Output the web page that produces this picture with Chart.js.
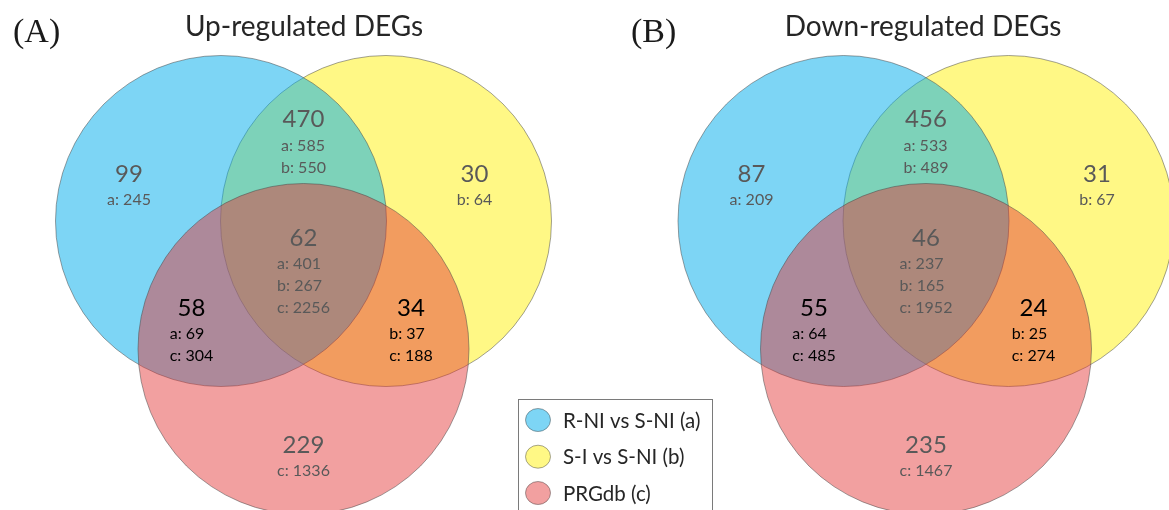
<!DOCTYPE html>
<html>
<head>
<meta charset="utf-8">
<script src="https://cdn.jsdelivr.net/npm/chart.js@4.4.1/dist/chart.umd.min.js"></script>
<style>
  html, body { margin: 0; padding: 0; background: #fff; }
  #wrap { width: 1169px; height: 510px; position: relative; }
</style>
</head>
<body>
<div id="wrap"><canvas id="venn" width="1169" height="510"></canvas></div>
<script>
// Gene sets compared in both diagrams
const setNames = ['R-NI vs S-NI (a)', 'S-I vs S-NI (b)', 'PRGdb (c)'];
const setLetters = ['a', 'b', 'c'];

// Panel headings
const panelTitles = ['Up-regulated DEGs', 'Down-regulated DEGs'];
const panelTags = ['(A)', '(B)'];

// Venn regions, named by the sets they belong to
const regions = ['a', 'b', 'c', 'ab', 'ac', 'bc', 'abc'];

// Gene counts per region
const upCounts = [99, 30, 229, 470, 58, 34, 62];
const downCounts = [87, 31, 235, 456, 55, 24, 46];

// Per-set totals listed under each region count (same region order)
const upTotals = [[245], [64], [1336], [585, 550], [69, 304], [37, 188], [401, 267, 2256]];
const downTotals = [[209], [67], [1467], [533, 489], [64, 485], [25, 274], [237, 165, 1952]];

const panelCounts = [upCounts, downCounts];
const panelTotals = [upTotals, downTotals];

// ---- layout (canvas units: the axes run 0..1169 and 0..510) ----
const W = 1169, H = 510;
const R = 165.5;                       // circle radius
const panelShift = [0, 622.5];         // horizontal offset of each panel
const circleCenters = { a: [221, 221], b: [386, 221], c: [303.5, 349] };
const labelAnchors = {
  a: [129, 173], b: [474.5, 173], c: [303.5, 444],
  ab: [303.5, 118.5], ac: [191.5, 307], bc: [411, 307], abc: [303.5, 237]
};
const boldInk = ['ac', 'bc'];          // regions labelled in black
const titleX = [304, 923];
const tagX = [13, 631];

// ---- styles ----
const fills = { a: 'rgba(0,172,235,0.51)', b: 'rgb(255,248,133)', c: 'rgba(227,53,53,0.47)' };
const drawOrder = { a: 2, b: 3, c: 1 };   // yellow underneath, pink on top
const FONT = 'Lato, "Open Sans", sans-serif';

// length along the x axis, in pixels
function pxLen(chart, v) {
  const s = chart.scales.x;
  if (!s || !s.width) return 0;
  return Math.abs(s.getPixelForValue(v) - s.getPixelForValue(0));
}

const datasets = setLetters.map((k, i) => ({
  label: setNames[i],
  data: panelShift.map(dx => ({ x: circleCenters[k][0] + dx, y: circleCenters[k][1] })),
  backgroundColor: fills[k],
  pointBackgroundColor: fills[k],
  pointBorderColor: 'rgba(70,70,70,0.5)',
  pointBorderWidth: 1,
  pointRadius: ctx => pxLen(ctx.chart, R),
  pointHoverRadius: ctx => pxLen(ctx.chart, R),
  showLine: false,
  order: drawOrder[k],
  clip: false
}));

// Region counts and their per-set totals
const vennLabels = {
  id: 'vennLabels',
  afterDatasetsDraw(chart) {
    const { ctx, scales: { x, y } } = chart;
    ctx.save();
    panelCounts.forEach((counts, p) => {
      regions.forEach((reg, i) => {
        const [ax, ay] = labelAnchors[reg];
        const cx = x.getPixelForValue(ax + panelShift[p]);
        const cy = y.getPixelForValue(ay);
        const ink = boldInk.includes(reg) ? '#000' : '#595959';
        ctx.fillStyle = ink;
        ctx.textBaseline = 'alphabetic';
        ctx.textAlign = 'center';
        ctx.font = '24px ' + FONT;
        ctx.fillText(String(counts[i]), cx, cy + 8.7);

        ctx.font = '16px ' + FONT;
        const lines = panelTotals[p][i].map((v, j) => reg[j] + ': ' + v);
        const wMax = Math.max(...lines.map(t => ctx.measureText(t).width));
        ctx.textAlign = 'left';
        lines.forEach((t, j) => {
          ctx.fillText(t, cx - wMax / 2, cy + 26.5 + j * 22 + 5.8);
        });
      });
      // panel heading and tag
      ctx.textAlign = 'center';
      ctx.fillStyle = '#262626';
      ctx.font = '28px ' + FONT;
      ctx.fillText(panelTitles[p], x.getPixelForValue(titleX[p]), y.getPixelForValue(35.7));
      ctx.textAlign = 'left';
      ctx.fillStyle = '#1a1a1a';
      ctx.font = '34px "Liberation Serif", "Times New Roman", serif';
      ctx.fillText(panelTags[p], x.getPixelForValue(tagX[p]), y.getPixelForValue(41.5));
    });
    ctx.restore();
  }
};

// Boxed key of the three gene sets
const vennKey = {
  id: 'vennKey',
  afterDraw(chart) {
    const { ctx, scales: { x, y } } = chart;
    const left = x.getPixelForValue(518.5), top = y.getPixelForValue(399.5);
    const right = x.getPixelForValue(712.5), bottom = y.getPixelForValue(514);
    ctx.save();
    ctx.fillStyle = '#fff';
    ctx.fillRect(left, top, right - left, bottom - top);
    ctx.strokeStyle = '#7a7a7a';
    ctx.lineWidth = 1;
    ctx.strokeRect(left, top, right - left, bottom - top);
    const rows = [420, 456.7, 493];
    chart.data.datasets.forEach((ds, i) => {
      const my = y.getPixelForValue(rows[i]);
      const mx = x.getPixelForValue(538);
      ctx.beginPath();
      ctx.ellipse(mx, my, 12.5, 11.5, 0, 0, Math.PI * 2);
      ctx.fillStyle = '#fff';
      ctx.fill();
      ctx.fillStyle = ds.backgroundColor;
      ctx.fill();
      ctx.strokeStyle = 'rgba(60,60,60,0.45)';
      ctx.stroke();
      ctx.fillStyle = '#262626';
      ctx.font = '20.5px ' + FONT;
      ctx.textAlign = 'left';
      ctx.textBaseline = 'middle';
      ctx.fillText(ds.label, x.getPixelForValue(563), my + 1);
    });
    ctx.restore();
  }
};

new Chart(document.getElementById('venn'), {
  type: 'scatter',
  data: { datasets },
  options: {
    responsive: false,
    animation: false,
    events: [],
    layout: { padding: 0 },
    scales: {
      x: { type: 'linear', min: 0, max: W, display: false },
      y: { type: 'linear', min: 0, max: H, reverse: true, display: false }
    },
    plugins: { legend: { display: false }, tooltip: { enabled: false } }
  },
  plugins: [vennLabels, vennKey]
});
</script>
</body>
</html>
